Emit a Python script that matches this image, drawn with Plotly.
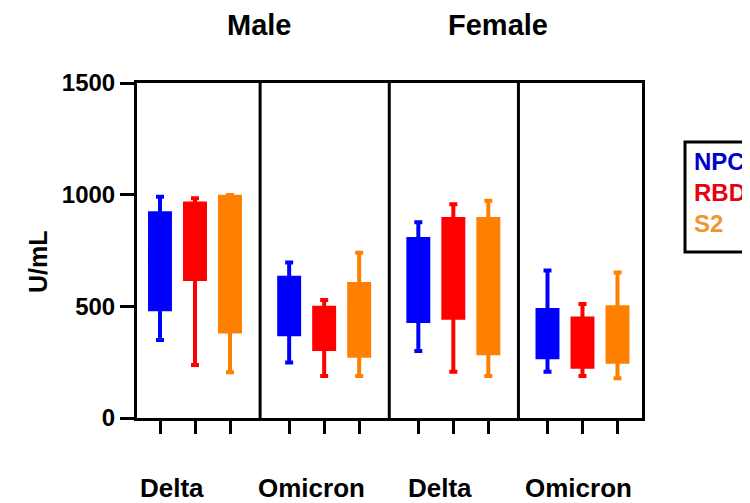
import plotly.graph_objects as go

# ---- data ----
sexes = ["Male", "Female"]
variants = ["Delta", "Omicron", "Delta", "Omicron"]
antigens = ["NPC", "RBD", "S2"]

# order of groups: Male Delta, Male Omicron, Female Delta, Female Omicron
npc_low = [349, 248, 300, 207]
npc_q1 = [487, 375, 434, 272]
npc_med = [720, 480, 620, 350]
npc_q3 = [917, 628, 801, 484]
npc_high = [991, 696, 876, 660]

rbd_low = [237, 188, 207, 188]
rbd_q1 = [622, 309, 449, 230]
rbd_med = [830, 400, 700, 320]
rbd_q3 = [961, 494, 891, 446]
rbd_high = [984, 528, 957, 510]

s2_low = [205, 188, 188, 178]
s2_q1 = [387, 279, 290, 252]
s2_med = [760, 410, 600, 360]
s2_q3 = [991, 600, 891, 496]
s2_high = [998, 740, 973, 651]

y_ticks = [0, 500, 1000, 1500]

colors = {"NPC": "#0000FF", "RBD": "#FF0000", "S2": "#FF8000"}
legend_colors = {"NPC": "#0000C8", "RBD": "#E8000E", "S2": "#F39430"}

stats = {
    "NPC": (npc_low, npc_q1, npc_med, npc_q3, npc_high),
    "RBD": (rbd_low, rbd_q1, rbd_med, rbd_q3, rbd_high),
    "S2": (s2_low, s2_q1, s2_med, s2_q3, s2_high),
}

# page body has an 8px margin: figure drawn at (8, 8) in the window
OFF = 8
GROUP_STEP = 3.69
L_PX, R_PX, T_PX, B_PX = 137 - OFF, 642 - OFF, 83 - OFF, 418 - OFF
W, H = 750 - OFF, 503 - OFF


def px_x(px):
    return (px - OFF - L_PX) / (R_PX - L_PX)


def px_y(py):
    return (B_PX - (py - OFF)) / (B_PX - T_PX)


fig = go.Figure()
for k, ag in enumerate(antigens):
    lo, q1, med, q3, hi = stats[ag]
    xs = [g * GROUP_STEP + k for g in range(len(variants))]
    fig.add_trace(go.Box(
        x=xs, lowerfence=lo, q1=q1, median=med, q3=q3, upperfence=hi,
        width=0.57, whiskerwidth=0.4,
        fillcolor=colors[ag], line=dict(color=colors[ag], width=4),
        name=ag, showlegend=False, boxpoints=False,
    ))

tickvals = [g * GROUP_STEP + k for g in range(len(variants)) for k in range(len(antigens))]

fig.update_layout(
    width=W, height=H, autosize=False,
    margin=dict(l=L_PX, r=W - R_PX, t=T_PX, b=H - B_PX),
    paper_bgcolor="white", plot_bgcolor="white",
    boxmode="overlay",
    font=dict(family="Liberation Sans, Arial, sans-serif", color="black"),
    xaxis=dict(
        range=[-0.657, 3 * GROUP_STEP + 2.7],
        tickvals=tickvals, ticktext=[""] * len(tickvals),
        ticks="outside", ticklen=13, tickwidth=3, tickcolor="black",
        showline=True, linecolor="black", linewidth=3, mirror=True,
        showgrid=False, zeroline=False, fixedrange=True,
    ),
    yaxis=dict(
        range=[0, 1500], tickvals=y_ticks,
        ticks="outside", ticklen=14, tickwidth=3, tickcolor="black",
        tickfont=dict(size=24, weight="bold", family="Liberation Sans, Arial, sans-serif"),
        showline=True, linecolor="black", linewidth=3, mirror=True,
        showgrid=False, zeroline=False,
    ),
)

# panel dividers
for g in range(1, len(variants)):
    fig.add_shape(type="line", xref="x", yref="paper",
                  x0=g * GROUP_STEP - 0.83, x1=g * GROUP_STEP - 0.83, y0=0, y1=1,
                  line=dict(color="black", width=3))

# group labels
label_px = [172, 311, 440, 578]
for txt, px in zip(variants, label_px):
    fig.add_annotation(text=txt, xref="paper", yref="paper", x=px_x(px), y=px_y(488),
                       showarrow=False, xanchor="center", yanchor="middle",
                       font=dict(size=26, weight="bold", color="black"))

# sex titles
title_px = [259, 498]
for txt, px in zip(sexes, title_px):
    fig.add_annotation(text=txt, xref="paper", yref="paper", x=px_x(px), y=px_y(25),
                       showarrow=False, xanchor="center", yanchor="middle",
                       font=dict(size=29, weight="bold", color="black"))

# y-axis title
fig.add_annotation(text="U/mL", xref="paper", yref="paper", x=px_x(38), y=px_y(262),
                   showarrow=False, textangle=-90, xanchor="center", yanchor="middle",
                   font=dict(size=25, weight="bold", color="black"))

# legend box
fig.add_shape(type="rect", xref="paper", yref="paper",
              x0=px_x(685), x1=px_x(770), y0=px_y(252), y1=px_y(142),
              line=dict(color="black", width=3), fillcolor="rgba(0,0,0,0)")
legend_text = "<br>".join(
    f"<span style='color:{legend_colors[ag]}'>{ag}</span>" for ag in antigens
)
fig.add_annotation(text=legend_text, xref="paper", yref="paper", x=px_x(692), y=px_y(192),
                   showarrow=False, xanchor="left", yanchor="middle", align="left",
                   font=dict(size=24, weight="bold"))

fig.write_html("out.html")
